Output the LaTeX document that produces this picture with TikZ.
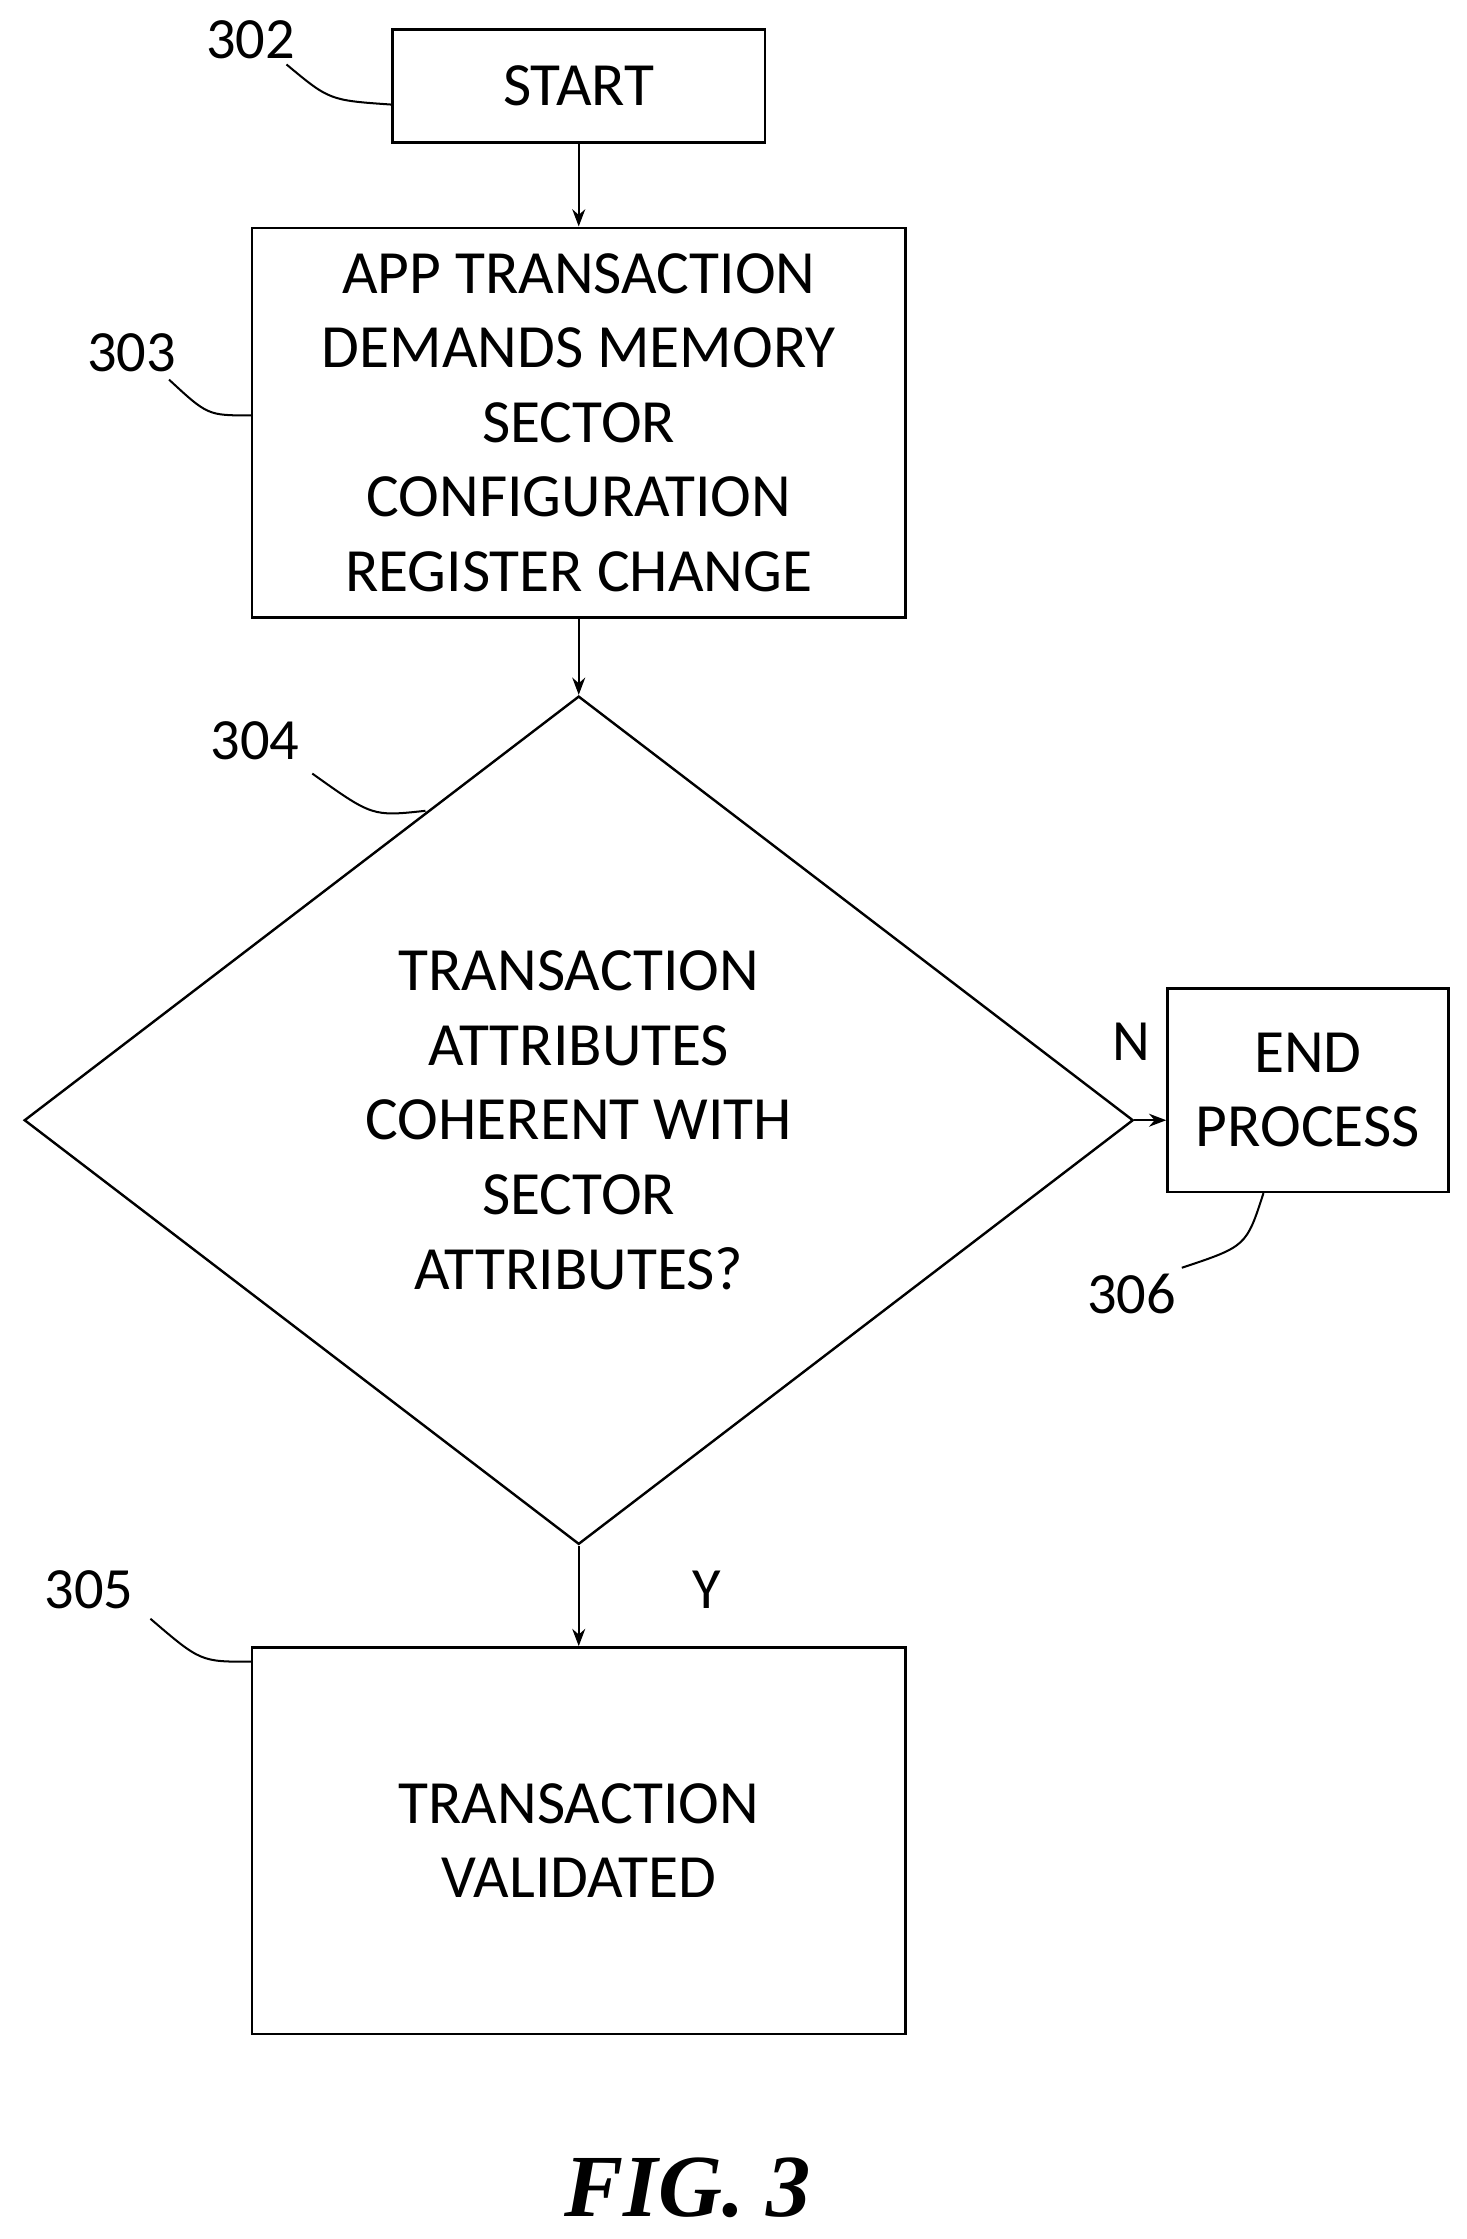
\documentclass[tikz,border=0pt]{standalone}
\usepackage{fontspec}
\setmainfont{Carlito}
\usetikzlibrary{arrows.meta,shapes.geometric}
\begin{document}
\begin{tikzpicture}[x=0.025cm,y=-0.025cm]
\tikzstyle{blk}=[draw,line width=1.2pt,align=center,inner sep=0pt,font=\fontsize{30.5}{37}\selectfont];
\tikzstyle{dec}=[draw,diamond,line width=1.2pt,align=center,inner sep=0pt,font=\fontsize{30.5}{37}\selectfont];
\tikzstyle{flow}=[-{Stealth[length=3mm]},line width=1.2pt];
\tikzstyle{lead}=[line width=1pt];
\tikzstyle{ref}=[font=\fontsize{29}{34}\selectfont];
\useasboundingbox (0,0) rectangle (1024,1563);

\node [blk,minimum width=6.5cm,minimum height=1.975cm] (start) at (404,60) {START};
\node [blk,minimum width=11.4cm,minimum height=6.8cm] (demand) at (404,295)
  {APP TRANSACTION\\DEMANDS MEMORY\\SECTOR\\CONFIGURATION\\REGISTER CHANGE};
\node [dec,minimum width=19.35cm,minimum height=14.8cm] (check) at (404,782)
  {TRANSACTION\\ATTRIBUTES\\COHERENT WITH\\SECTOR\\ATTRIBUTES?};
\node [blk,minimum width=4.9cm,minimum height=3.55cm] (endp) at (913,761) {END\\PROCESS};
\node [blk,minimum width=11.4cm,minimum height=6.75cm] (valid) at (404,1285)
  {TRANSACTION\\VALIDATED};

\draw [flow] (start) -- (demand);
\draw [flow] (demand) -- (check);
\draw [flow] (check.east) -- (check.east -| endp.west);
\draw [flow] (check) -- (valid);
\node [ref] (nlab) at (790,727) {N};
\node [ref] (ylab) at (493,1110) {Y};

\node [ref] (r302) at (175,28) {302};
\draw [lead] (200,45) .. controls (230,70) .. (start.west |- 0,73);
\node [ref] (r303) at (92,246) {303};
\draw [lead] (118,265) .. controls (145,290) .. (demand.west |- 0,290);
\node [ref] (r304) at (178,517) {304};
\draw [lead] (218,540) .. controls (260,570) .. (297,566);
\node [ref] (r306) at (790,903) {306};
\draw [lead] (825,885) .. controls (870,870) .. (endp.south -| 882,0);
\node [ref] (r305) at (62,1110) {305};
\draw [lead] (105,1130) .. controls (140,1160) .. (valid.west |- 0,1160);

\node [font=\fontsize{44}{50}\selectfont\bfseries\itshape\fontspec{Liberation Serif}] (fig) at (480,1527) {FIG. 3};
\end{tikzpicture}
\end{document}
